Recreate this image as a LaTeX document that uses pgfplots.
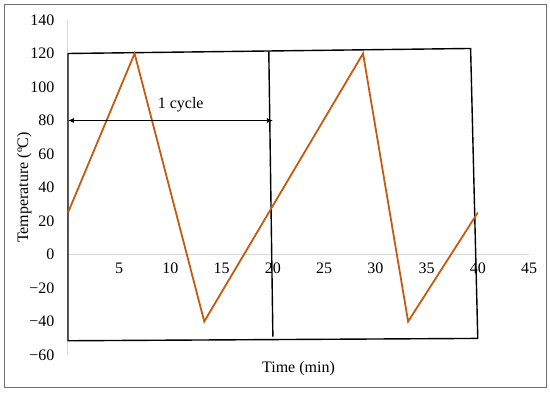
\documentclass[border=0pt]{standalone}
\usepackage{fontspec}
\setmainfont{Liberation Serif}
\usepackage{pgfplots}
\pgfplotsset{compat=1.18}
\usetikzlibrary{arrows.meta}
\definecolor{cycleorange}{RGB}{197,90,17}
\definecolor{axisgray}{RGB}{217,217,217}
\definecolor{framegray}{RGB}{110,110,110}

\begin{document}
\begin{tikzpicture}
\fontsize{16}{19}\selectfont
\begin{axis}[
    scale only axis,
    width=461pt, height=335pt,
    xmin=0, xmax=45,
    ymin=-60, ymax=140,
    axis x line=middle,
    axis y line=left,
    axis line style={axisgray, line width=1pt, -},
    xtick={5,10,...,45},
    ytick={-60,-40,...,140},
    yticklabels={−60,−40,−20,0,20,40,60,80,100,120,140},
    major tick length=0pt,
    tick label style={font=\fontsize{16}{19}\selectfont, black},
    /pgf/number format/assume math mode=true,
    xticklabel style={yshift=-3pt},
    yticklabel style={xshift=-8pt},
    xlabel={Time (min)},
    ylabel={Temperature (ºC)},
    label style={font=\fontsize{16}{19}\selectfont},
    xlabel style={at={(axis description cs:0.5,0)}, anchor=north, yshift=-1pt},
    ylabel style={at={(axis description cs:-0.095,0.5)}, anchor=center, rotate=0},
    clip=false,
]
% frame drawn around the cycles
\addplot[black, line width=1.4pt] coordinates {(0,120) (39.3,123) (40,-50.1) (0,-51.5) (0,120)};
% end of first cycle
\addplot[black, line width=1.4pt] coordinates {(19.6,121.4) (20,-49)};
% temperature profile
\addplot[cycleorange, line width=1.8pt] coordinates {
    (0,25) (6.5,120) (13.3,-40) (28.8,120) (33.2,-40) (40,25)};
% cycle marker
\addplot[black, line width=0.8pt, {Latex[length=6pt,width=5pt]}-{Latex[length=6pt,width=5pt]}]
    coordinates {(0,80) (20,80)};
\node at (axis cs:11,89.5) {1 cycle};
\end{axis}
\draw[framegray, line width=1pt] (-63pt,-33pt) rectangle (478pt,350pt);
\path (-68pt,-38pt) rectangle (482pt,355pt);
\end{tikzpicture}
\end{document}
